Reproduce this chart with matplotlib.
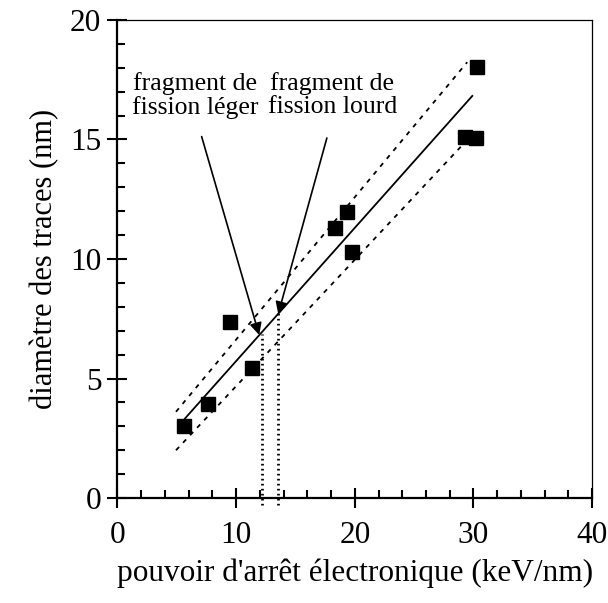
import numpy as np
from matplotlib import pyplot as plt
from matplotlib.ticker import MultipleLocator

plt.rcParams['font.family'] = ['Liberation Serif', 'DejaVu Serif']

# points mesures
stop_power = [5.6, 7.65, 9.46, 11.33, 18.35, 19.34, 19.76, 30.31, 29.27, 30.25]
diam = [3.0, 3.94, 7.36, 5.46, 11.31, 11.98, 10.28, 18.02, 15.12, 15.05]

# droite d'ajustement et bornes (pointilles)
fit_x = [5.7, 29.9]
fit_y = [3.33, 16.82]
upper_x = [4.94, 29.47]
upper_y = [3.61, 18.23]
lower_x = [4.94, 29.7]
lower_y = [2.0, 15.1]

# fragments de fission
frag_x = [12.21, 13.54]
frag_y = [6.85, 7.75]
frag_labels = ['fragment de\nfission léger', 'fragment de\nfission lourd']
label_pos = [(6.55, 16.85), (18.1, 16.85)]
arrow_start = [(7.1, 15.12), (17.65, 15.06)]
arrow_tip = [(11.95, 6.82), (13.55, 7.7)]

fig = plt.figure(figsize=(6.08, 6.03), dpi=100)
ax = fig.add_axes([0.193, 0.174, 0.781, 0.793])

ax.plot(fit_x, fit_y, color='black', lw=1.3)
ax.plot(upper_x, upper_y, color='black', lw=1.3, dashes=(2.5, 3.2))
ax.plot(lower_x, lower_y, color='black', lw=1.3, dashes=(2.5, 3.2))
ax.plot(stop_power, diam, 's', color='black', markersize=10, zorder=5)

for fx, fy in zip(frag_x, frag_y):
    ax.plot([fx, fx], [-0.3, fy], color='black', lw=2,
            linestyle=(0, (0.6, 1.2)), clip_on=False)

for lab, pos, s, t in zip(frag_labels, label_pos, arrow_start, arrow_tip):
    ax.text(pos[0], pos[1], lab, ha='center', va='center', fontsize=18.5,
            linespacing=1.05)
    ax.annotate('', xy=t, xytext=s,
                arrowprops=dict(arrowstyle='-|>', color='black', lw=1.2,
                                mutation_scale=18, shrinkA=0, shrinkB=0))

ax.set_xlim(0, 40)
ax.set_ylim(0, 20)
ax.xaxis.set_major_locator(MultipleLocator(10))
ax.xaxis.set_minor_locator(MultipleLocator(2))
ax.yaxis.set_major_locator(MultipleLocator(5))
ax.yaxis.set_minor_locator(MultipleLocator(1))
ax.tick_params(which='major', direction='inout', length=15, width=1.5,
               labelsize=22.5, pad=4)
ax.tick_params(which='minor', direction='in', length=6, width=1.5)
ax.tick_params(axis='x', which='major', pad=9)

for side in ['left', 'bottom']:
    ax.spines[side].set_linewidth(1.6)
for side in ['top', 'right']:
    ax.spines[side].set_linewidth(0.9)

ax.set_xlabel("pouvoir d'arrêt électronique (keV/nm)", fontsize=22.5, labelpad=6)
ax.set_ylabel('diamètre des traces (nm)', fontsize=22, labelpad=8)

fig.savefig('out.png', dpi=100)
